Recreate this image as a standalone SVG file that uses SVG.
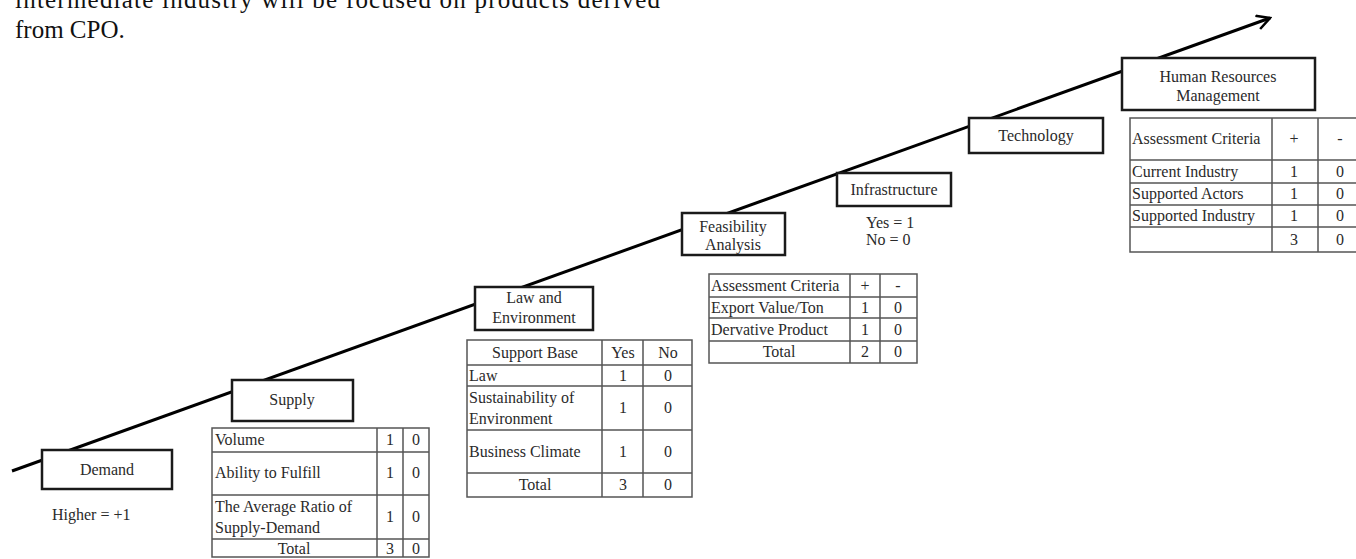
<svg xmlns="http://www.w3.org/2000/svg" width="1356" height="559" viewBox="0 0 1356 559">
<defs>
<style>
text{font-family:"Liberation Serif","Times New Roman",serif;fill:#2a2a2a;}
.para{font-size:25px;fill:#111;}
.lbl{font-size:16px;text-anchor:middle;}
.t{font-size:16px;}
.c{text-anchor:middle;}
.box{fill:#fff;stroke:#1a1a1a;stroke-width:2.5;}
.tab{fill:#fff;stroke:#555;stroke-width:1.5;}
.grid{stroke:#555;stroke-width:1.5;fill:none;}
.main{stroke:#000;stroke-width:3;fill:none;}
</style>
<marker id="arr" viewBox="0 0 16 16" refX="14" refY="8" markerWidth="16" markerHeight="16" markerUnits="userSpaceOnUse" orient="auto">
<path d="M1,1 L14,8 L1,15" fill="none" stroke="#000" stroke-width="2.5"/>
</marker>
</defs>
<rect width="1356" height="559" fill="#fff"/>
<text class="para" x="15" y="8" textLength="645" lengthAdjust="spacing">intermediate industry will be focused on products derived</text>
<text class="para" x="15" y="38">from CPO.</text>
<g id="connectors">
<line class="main" x1="12" y1="471" x2="1270" y2="18" marker-end="url(#arr)"/>
</g>
<g id="demand">
<rect class="box" x="42" y="450" width="130" height="39"/>
<text class="lbl" x="107" y="475">Demand</text>
<text class="t" x="52" y="520">Higher = +1</text>
</g>
<g id="supply">
<rect class="box" x="232" y="380" width="121" height="41"/>
<text class="lbl" x="292" y="405">Supply</text>
<rect class="tab" x="212" y="428" width="217" height="129"/>
<path class="grid" d="M212,452H429M212,495H429M212,539H429M377,428V557M403,428V557"/>
<text class="t" x="215" y="445">Volume</text>
<text class="t c" x="390" y="445">1</text><text class="t c" x="416" y="445">0</text>
<text class="t" x="215" y="478">Ability to Fulfill</text>
<text class="t c" x="390" y="478">1</text><text class="t c" x="416" y="478">0</text>
<text class="t" x="215" y="512">The Average Ratio of</text>
<text class="t" x="215" y="533">Supply-Demand</text>
<text class="t c" x="390" y="522">1</text><text class="t c" x="416" y="522">0</text>
<text class="t c" x="294" y="554">Total</text>
<text class="t c" x="390" y="554">3</text><text class="t c" x="416" y="554">0</text>
</g>
<g id="law">
<rect class="box" x="475" y="287" width="118" height="43"/>
<text class="lbl" x="534" y="303">Law and</text>
<text class="lbl" x="534" y="323">Environment</text>
<rect class="tab" x="467" y="340" width="225" height="157"/>
<path class="grid" d="M467,365H692M467,386H692M467,430H692M467,473H692M602,340V497M643,340V497"/>
<text class="t c" x="535" y="358">Support Base</text>
<text class="t c" x="623" y="358">Yes</text><text class="t c" x="668" y="358">No</text>
<text class="t" x="469" y="381">Law</text>
<text class="t c" x="623" y="381">1</text><text class="t c" x="668" y="381">0</text>
<text class="t" x="469" y="403">Sustainability of</text>
<text class="t" x="469" y="424">Environment</text>
<text class="t c" x="623" y="413">1</text><text class="t c" x="668" y="413">0</text>
<text class="t" x="469" y="457">Business Climate</text>
<text class="t c" x="623" y="457">1</text><text class="t c" x="668" y="457">0</text>
<text class="t c" x="535" y="490">Total</text>
<text class="t c" x="623" y="490">3</text><text class="t c" x="668" y="490">0</text>
</g>
<g id="feasibility">
<rect class="box" x="682" y="213" width="103" height="42"/>
<text class="lbl" x="733" y="232">Feasibility</text>
<text class="lbl" x="733" y="250">Analysis</text>
<rect class="tab" x="709" y="274" width="208" height="89"/>
<path class="grid" d="M709,297H917M709,318H917M709,341H917M850,274V363M880,274V363"/>
<text class="t" x="711" y="291">Assessment Criteria</text>
<text class="t c" x="865" y="291">+</text><text class="t c" x="898" y="291">-</text>
<text class="t" x="711" y="313">Export Value/Ton</text>
<text class="t c" x="865" y="313">1</text><text class="t c" x="898" y="313">0</text>
<text class="t" x="711" y="335">Dervative Product</text>
<text class="t c" x="865" y="335">1</text><text class="t c" x="898" y="335">0</text>
<text class="t c" x="779" y="357">Total</text>
<text class="t c" x="865" y="357">2</text><text class="t c" x="898" y="357">0</text>
</g>
<g id="infrastructure">
<rect class="box" x="837" y="173" width="114" height="33"/>
<text class="lbl" x="894" y="195">Infrastructure</text>
<text class="t" x="866" y="228">Yes = 1</text>
<text class="t" x="866" y="245">No  = 0</text>
</g>
<g id="technology">
<rect class="box" x="969" y="118" width="134" height="35"/>
<text class="lbl" x="1036" y="141">Technology</text>
</g>
<g id="hrm">
<rect class="box" x="1122" y="58" width="193" height="52"/>
<text class="lbl" x="1218" y="82">Human Resources</text>
<text class="lbl" x="1218" y="101">Management</text>
<rect class="tab" x="1130" y="118" width="232" height="134"/>
<path class="grid" d="M1130,160H1362M1130,183H1362M1130,205H1362M1130,227H1362M1272,118V252M1318,118V252"/>
<text class="t" x="1132" y="144">Assessment Criteria</text>
<text class="t c" x="1294" y="144">+</text><text class="t c" x="1340" y="144">-</text>
<text class="t" x="1132" y="177">Current Industry</text>
<text class="t c" x="1294" y="177">1</text><text class="t c" x="1340" y="177">0</text>
<text class="t" x="1132" y="199">Supported Actors</text>
<text class="t c" x="1294" y="199">1</text><text class="t c" x="1340" y="199">0</text>
<text class="t" x="1132" y="221">Supported Industry</text>
<text class="t c" x="1294" y="221">1</text><text class="t c" x="1340" y="221">0</text>
<text class="t c" x="1294" y="245">3</text><text class="t c" x="1340" y="245">0</text>
</g>
</svg>
